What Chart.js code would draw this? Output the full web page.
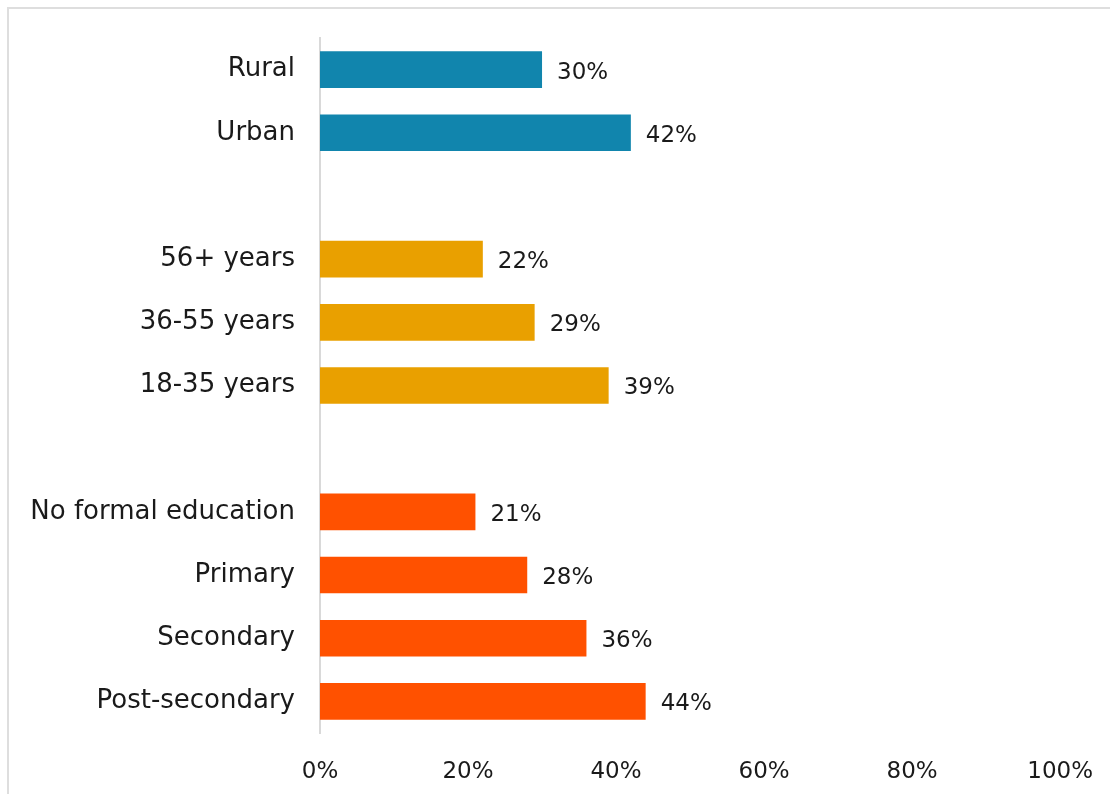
<!DOCTYPE html>
<html>
<head>
<meta charset="utf-8">
<script src="https://cdn.jsdelivr.net/npm/chart.js@4.4.1/dist/chart.umd.min.js"></script>
<style>
html,body{margin:0;padding:0;background:#fff;overflow:hidden;}
#wrap{position:relative;width:1110px;height:794px;}
#frame{position:absolute;left:7px;top:7px;width:1200px;height:900px;border:2px solid #dedede;box-sizing:border-box;}
canvas{position:absolute;left:0;top:0;}
</style>
</head>
<body>
<div id="wrap">
<div id="frame"></div>
<canvas id="c" width="1110" height="794"></canvas>
</div>
<script>
const categories = ["Rural","Urban","","56+ years","36-55 years","18-35 years","","No formal education","Primary","Secondary","Post-secondary"];
const values = [30,42,null,22,29,39,null,21,28,36,44];
const barColors = ["#1185ad","#1185ad",null,"#e9a000","#e9a000","#e9a000",null,"#ff5100","#ff5100","#ff5100","#ff5100"];
const xTicks = [0,20,40,60,80,100];

const FONT = "'DejaVu Sans', sans-serif";

const labelPlugin = {
  id:'barLabels',
  afterDatasetsDraw(chart){
    const ctx = chart.ctx;
    const meta = chart.getDatasetMeta(0);
    ctx.save();
    ctx.font = "23px " + FONT;
    ctx.fillStyle = "#1a1a1a";
    ctx.textAlign = "left";
    ctx.textBaseline = "middle";
    meta.data.forEach((el,i)=>{
      const v = values[i];
      if(v===null||v===undefined) return;
      ctx.fillText(v+"%", el.x+15, el.y+3);
    });
    ctx.restore();
  }
};

new Chart(document.getElementById('c'),{
  type:'bar',
  data:{
    labels:categories,
    datasets:[{data:values,backgroundColor:barColors,borderWidth:0,categoryPercentage:1,barPercentage:0.58}]
  },
  options:{
    indexAxis:'y',
    responsive:false,
    animation:false,
    layout:{padding:{top:38,right:45,bottom:0,left:0}},
    plugins:{legend:{display:false},tooltip:{enabled:false}},
    scales:{
      x:{
        min:0,max:100,
        afterBuildTicks(s){ s.ticks = xTicks.map(v=>({value:v})); },
        grid:{display:false},
        border:{display:false},
        ticks:{color:"#1a1a1a",font:{family:FONT,size:23},padding:17,callback:v=>v+"%",maxRotation:0},
        afterFit(s){ s.height = 794-733; }
      },
      y:{
        grid:{display:false},
        border:{display:true,color:"#d9d9d9",width:2},
        ticks:{color:"#1a1a1a",font:{family:FONT,size:26},padding:17},
        afterFit(s){ s.width = 320; }
      }
    }
  },
  plugins:[labelPlugin]
});
</script>
</body>
</html>
